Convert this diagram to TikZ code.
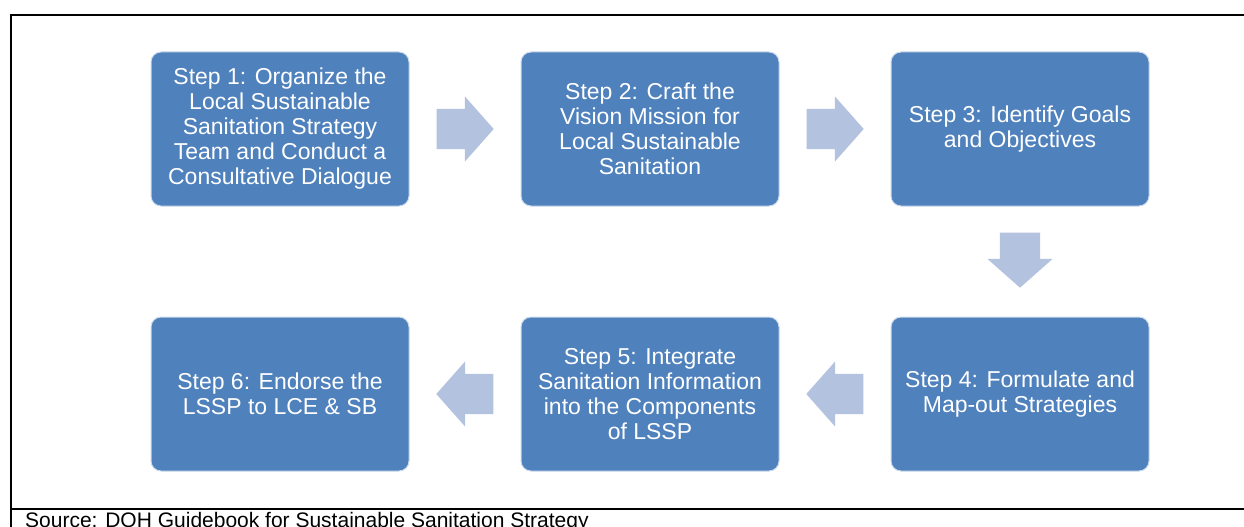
\documentclass[tikz,border=0pt]{standalone}
\usepackage{fontspec}
\setmainfont{Liberation Sans}
\usepackage{tikz}
\usetikzlibrary{shapes, shapes.arrows, positioning, calc}

\definecolor{stepblue}{RGB}{79,129,189}
\definecolor{arrowblue}{RGB}{179,194,222}

\begin{document}
\begin{tikzpicture}[x=1pt, y=1pt,
stepbox/.style={
rectangle,
rounded corners=10,
draw=white!70!stepblue,
line width=1,
fill=stepblue,
text=white,
align=center,
minimum width=258,
minimum height=154,
inner sep=0,
font=\fontsize{23}{25}\selectfont
},
flow arrow/.style={
single arrow,
draw=none,
fill=arrowblue,
inner sep=0,
anchor=tail,
single arrow head extend=12.5,
single arrow tip angle=97
},
side arrow/.style={flow arrow, text width=1, text height=20, text depth=20,
                   minimum height=57},
down arrow/.style={flow arrow, text width=40, text height=1, text depth=0,
                   minimum height=55, shape border rotate=270},
node distance=110
]
\useasboundingbox (0,0) rectangle (1244,-527);

% outer frame
\draw[line width=2] (1244,-15) -- (11,-15) -- (11,-527);
\draw[line width=2] (11,-509) -- (1244,-509);

\node[stepbox] (s1) at (280,-129) {Step 1: Organize the\\Local Sustainable\\Sanitation Strategy\\Team and Conduct a\\Consultative Dialogue};
\node[stepbox] (s2) [right=111 of s1] {Step 2: Craft the\\Vision Mission for\\Local Sustainable\\Sanitation};
\node[stepbox] (s3) [right=111 of s2] {Step 3: Identify Goals\\and Objectives};
\node[stepbox] (s4) [below=of s3] {Step 4: Formulate and\\Map-out Strategies};
\node[stepbox] (s5) [left=111 of s4] {Step 5: Integrate\\Sanitation Information\\into the Components\\of LSSP};
\node[stepbox] (s6) [left=111 of s5] {Step 6: Endorse the\\LSSP to LCE \& SB};

% block arrows between the steps (placed by their tails)
\node[side arrow] (a12) at ($(s1.east)!0.5!(s2.west)+(-28.5,0)$) {};
\node[side arrow] (a23) at ($(s2.east)!0.5!(s3.west)+(-28.5,0)$) {};
\node[down arrow] (a34) at ($(s3.south)!0.5!(s4.north)+(0,29)$) {};
\node[side arrow, shape border rotate=180] (a45) at ($(s4.west)!0.5!(s5.east)+(28.5,0)$) {};
\node[side arrow, shape border rotate=180] (a56) at ($(s5.west)!0.5!(s6.east)+(28.5,0)$) {};

\node[anchor=base west, inner sep=0, font=\fontsize{21}{24}\selectfont] (src) at (25,-527) {Source: DOH Guidebook for Sustainable Sanitation Strategy};

\end{tikzpicture}
\end{document}
